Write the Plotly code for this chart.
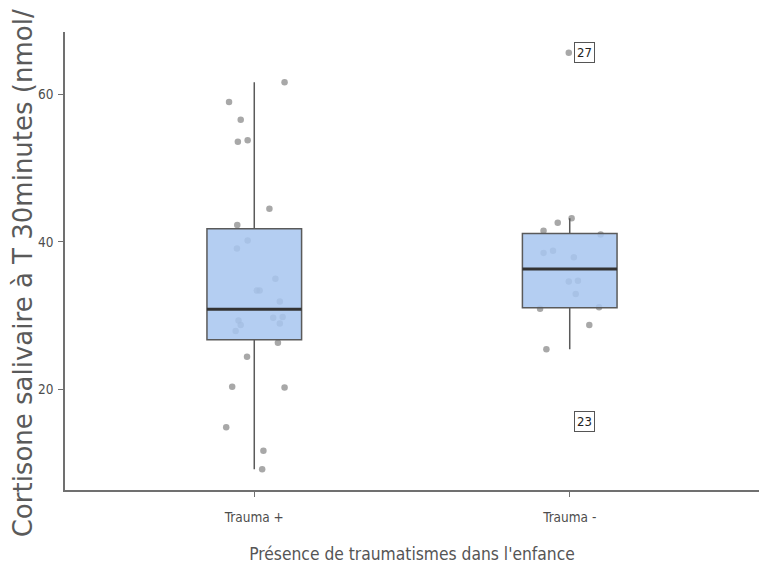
import numpy as np
import plotly.graph_objects as go

categories = ["Trauma +", "Trauma -"]

trauma_pos_values = [61.7, 59.0, 56.6, 53.6, 53.8, 44.5, 42.3, 40.2, 39.1, 35.0, 33.4, 33.4, 31.9,
                     29.3, 28.7, 27.9, 29.7, 29.8, 28.9, 26.3, 24.4, 20.3, 20.2, 14.8, 11.6, 9.1]
trauma_pos_jitter = [0.096, -0.080, -0.043, -0.052, -0.021, 0.048, -0.054, -0.021, -0.055, 0.067, 0.008,
                     0.017, 0.081, -0.050, -0.043, -0.059, 0.060, 0.090, 0.081, 0.075, -0.023, -0.070,
                     0.096, -0.089, 0.029, 0.025]

trauma_neg_values = [43.2, 42.6, 41.5, 41.0, 38.5, 38.8, 37.9, 34.6, 34.7, 32.9, 30.9, 31.1, 28.7,
                     25.4, 65.7, 15.6]
trauma_neg_jitter = [0.006, -0.038, -0.083, 0.098, -0.083, -0.053, 0.013, -0.003, 0.026, 0.019, -0.094,
                     0.093, 0.062, -0.074, -0.003, 0.047]

outlier_ids = ["27", "23"]
outlier_values = [65.7, 15.6]

y_ticks = [20, 40, 60]
y_title = "Cortisone salivaire à T 30minutes (nmol/L)"
x_title = "Présence de traumatismes dans l'enfance"

groups = [(1, trauma_pos_values, trauma_pos_jitter), (2, trauma_neg_values, trauma_neg_jitter)]


def box_stats(vals):
    a = np.asarray(vals, dtype=float)
    q1, med, q3 = np.percentile(a, [25, 50, 75])
    iqr = q3 - q1
    lo = a[a >= q1 - 1.5 * iqr].min()
    hi = a[a <= q3 + 1.5 * iqr].max()
    return q1, med, q3, lo, hi


fig = go.Figure()

# jittered points (underneath the boxes)
for pos, vals, jit in groups:
    fig.add_trace(go.Scatter(
        x=[pos + j for j in jit], y=vals, mode="markers",
        marker=dict(size=6.5, color="rgba(135,135,135,0.72)", line=dict(width=0)),
        hoverinfo="y", showlegend=False, xaxis="x", yaxis="y"))

# boxes on an overlaying axis so they sit above the points
for pos, vals, jit in groups:
    q1, med, q3, lo, hi = box_stats(vals)
    fig.add_trace(go.Box(
        x=[pos], q1=[q1], median=[med], q3=[q3], lowerfence=[lo], upperfence=[hi],
        width=0.3, whiskerwidth=0, fillcolor="rgba(168,198,240,0.86)",
        line=dict(color="#5a5a5a", width=1.5), showlegend=False,
        xaxis="x2", yaxis="y2"))
    fig.add_trace(go.Scatter(
        x=[pos - 0.15, pos + 0.15], y=[med, med], mode="lines",
        line=dict(color="#333333", width=3), hoverinfo="skip", showlegend=False,
        xaxis="x2", yaxis="y2"))

# outlier labels
label_dx = [0.048, 0.047]
for lab, val, dx in zip(outlier_ids, outlier_values, label_dx):
    fig.add_annotation(x=2 + dx, y=val, xref="x2", yref="y2", text=lab, showarrow=False,
                       font=dict(family="DejaVu Sans Condensed", size=13, color="#222222"),
                       bgcolor="white", bordercolor="#555555", borderwidth=1, borderpad=2)

xr = [0.4, 2.6]
yr = [6.27, 68.53]
axis_common = dict(showgrid=False, zeroline=False)
tick_font = dict(family="DejaVu Sans Condensed", size=13.5, color="#4d4d4d")
fig.update_layout(
    width=759, height=561,
    margin=dict(l=57, r=8, t=24, b=79),
    paper_bgcolor="white", plot_bgcolor="white",
    xaxis=dict(range=xr, tickvals=[1, 2], ticktext=categories, showline=True, linecolor="#707070",
               linewidth=1.5, ticks="outside", ticklen=5, tickcolor="#707070", tickwidth=1.2,
               tickfont=tick_font, automargin=False, ticklabelstandoff=9,
               title=dict(text=x_title, font=dict(family="DejaVu Sans Condensed", size=17.3, color="#555555"),
                          standoff=24),
               **axis_common),
    yaxis=dict(range=yr, tickvals=y_ticks, showline=True, linecolor="#707070", linewidth=1.5,
               ticks="outside", ticklen=5, tickcolor="#707070", tickwidth=1.2,
               tickfont=tick_font, automargin=False, ticklabelstandoff=2,
               title=dict(text=y_title, font=dict(family="DejaVu Sans", size=26, color="#5a5a5a"),
                          standoff=3),
               **axis_common),
    xaxis2=dict(range=xr, overlaying="x", visible=False, **axis_common),
    yaxis2=dict(range=yr, overlaying="y", visible=False, **axis_common),
)

fig.write_html("out.html")
